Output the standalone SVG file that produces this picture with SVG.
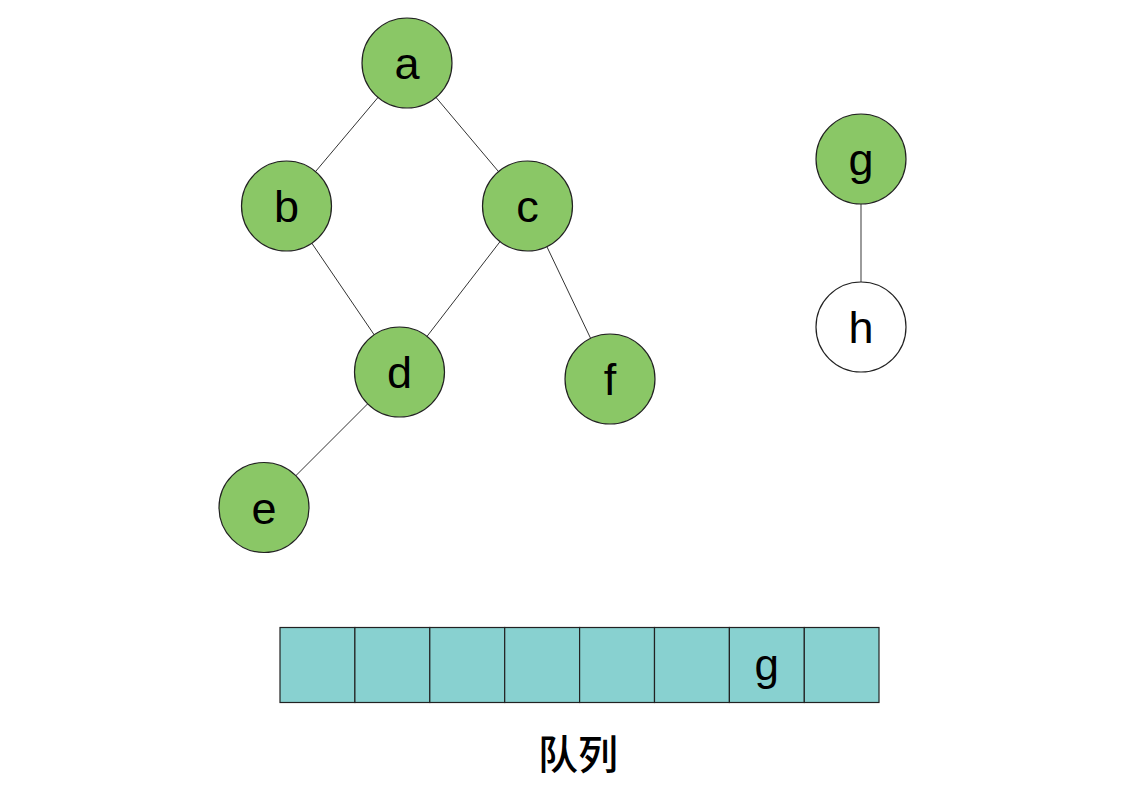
<svg xmlns="http://www.w3.org/2000/svg" width="1141" height="796" viewBox="0 0 1141 796">
<style>
.node circle{fill:#8AC766;stroke:#222;stroke-width:1.2}
.node.white circle{fill:#fff}
.node text,.cell text{font-family:"Liberation Sans",Arial,sans-serif;font-size:45px;fill:#000;text-anchor:middle}
.edges line{stroke:#333;stroke-width:1}
.cell rect{fill:#88D1D0;stroke:#222;stroke-width:1.2}
.title{font-family:"Noto Sans CJK SC",sans-serif;font-size:40px;font-weight:500;text-anchor:middle;fill:#000}
</style>
<rect width="1141" height="796" fill="#fff"/>
<g id="connectors" class="edges">
<line x1="407" y1="63" x2="286.5" y2="206"/>
<line x1="407" y1="63" x2="527.5" y2="206"/>
<line x1="286.5" y1="206" x2="399.5" y2="372"/>
<line x1="527.5" y1="206" x2="399.5" y2="372"/>
<line x1="527.5" y1="206" x2="610" y2="379"/>
<line x1="399.5" y1="372" x2="264" y2="507.5"/>
<line x1="861" y1="159" x2="861" y2="327" style="stroke:#666;stroke-width:1.3"/>
</g>
<g id="node-a" class="node"><circle cx="407" cy="63" r="45"/><text x="407" y="79">a</text></g>
<g id="node-b" class="node"><circle cx="286.5" cy="206" r="45"/><text x="286.5" y="222">b</text></g>
<g id="node-c" class="node"><circle cx="527.5" cy="206" r="45"/><text x="527.5" y="222">c</text></g>
<g id="node-d" class="node"><circle cx="399.5" cy="372" r="45"/><text x="399.5" y="388">d</text></g>
<g id="node-f" class="node"><circle cx="610" cy="379" r="45"/><text x="610" y="395">f</text></g>
<g id="node-e" class="node"><circle cx="264" cy="507.5" r="45"/><text x="264" y="523.5">e</text></g>
<g id="node-g" class="node"><circle cx="861" cy="159" r="45"/><text x="861" y="175">g</text></g>
<g id="node-h" class="node white"><circle cx="861" cy="327" r="45"/><text x="861" y="343">h</text></g>
<g id="queue">
<g class="cell"><rect x="280" y="627.5" width="74.9" height="75"/></g>
<g class="cell"><rect x="354.9" y="627.5" width="74.9" height="75"/></g>
<g class="cell"><rect x="429.8" y="627.5" width="74.9" height="75"/></g>
<g class="cell"><rect x="504.7" y="627.5" width="74.9" height="75"/></g>
<g class="cell"><rect x="579.6" y="627.5" width="74.9" height="75"/></g>
<g class="cell"><rect x="654.5" y="627.5" width="74.9" height="75"/></g>
<g class="cell"><rect x="729.4" y="627.5" width="74.9" height="75"/><text x="766.8" y="680" style="font-size:44px">g</text></g>
<g class="cell"><rect x="804.3" y="627.5" width="74.7" height="75"/></g>
</g>
<text class="title" x="578" y="769">队列</text>
</svg>
